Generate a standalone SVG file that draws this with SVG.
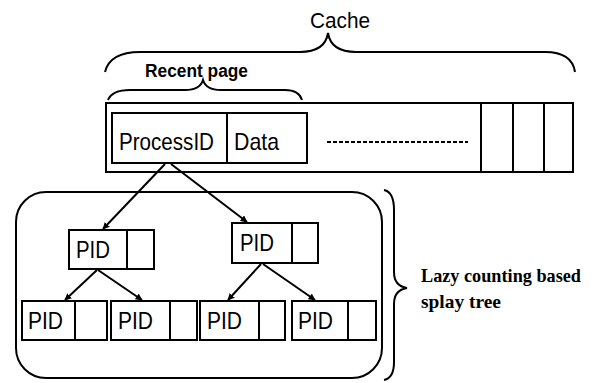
<svg xmlns="http://www.w3.org/2000/svg" width="595" height="383" viewBox="0 0 595 383">
<defs>
<marker id="ah" viewBox="0 0 10 10" refX="9" refY="5" markerWidth="7" markerHeight="7" orient="auto" markerUnits="userSpaceOnUse">
<path d="M0,0 L10,5 L0,10 z" fill="#000"/>
</marker>
<style>
.box{fill:#fff;stroke:#000;stroke-width:2}
.ln{fill:none;stroke:#000;stroke-width:2}
.br{fill:none;stroke:#000;stroke-width:2}
.arr{fill:none;stroke:#000;stroke-width:2;marker-end:url(#ah)}
.t{font-family:"Liberation Sans",Arial,sans-serif;font-size:24px;fill:#000}
.tb{font-family:"Liberation Sans",Arial,sans-serif;font-size:18px;font-weight:bold;fill:#000}
.ts{font-family:"Liberation Serif","Times New Roman",serif;font-size:19px;font-weight:bold;fill:#000}
</style>
</defs>
<rect width="595" height="383" fill="#fff"/>

<g id="cache-label">
<text class="t" x="340" y="28" text-anchor="middle" textLength="60" lengthAdjust="spacingAndGlyphs" style="font-size:22px">Cache</text>
<path class="br" d="M105,72 Q110,52 140,52 L300,52 Q325,52 328,33 Q331,52 356,52 L545,52 Q572,52 575,72"/>
</g>

<g id="recent-label">
<text class="tb" x="145" y="77" textLength="103" lengthAdjust="spacingAndGlyphs">Recent page</text>
<path class="br" d="M108,100 Q112,90 130,90 L185,90 Q200,90 203,80 Q206,90 221,90 L285,90 Q299,90 302,100"/>
</g>

<g id="cache">
<rect class="box" x="106" y="103" width="467" height="69"/>
<line class="ln" x1="481" y1="103" x2="481" y2="172"/>
<line class="ln" x1="513" y1="103" x2="513" y2="172"/>
<line class="ln" x1="544" y1="103" x2="544" y2="172"/>
<line x1="327" y1="142" x2="468" y2="142" stroke="#000" stroke-width="2" stroke-dasharray="4,2"/>
</g>

<g id="recent-page">
<rect class="box" x="112" y="113" width="195" height="50"/>
<line class="ln" x1="227" y1="113" x2="227" y2="163"/>
<text class="t" x="119" y="150" textLength="95" lengthAdjust="spacingAndGlyphs">ProcessID</text>
<text class="t" x="234" y="150" textLength="45" lengthAdjust="spacingAndGlyphs">Data</text>
</g>

<g id="tree-container">
<rect x="16" y="192" width="366" height="186" rx="30" ry="30" class="ln"/>
</g>

<g id="n1">
<rect class="box" x="69" y="230" width="85" height="39"/>
<line class="ln" x1="127" y1="230" x2="127" y2="269"/>
<text class="t" x="76" y="258" textLength="34" lengthAdjust="spacingAndGlyphs">PID</text>
</g>
<g id="n2">
<rect class="box" x="232" y="223" width="86" height="40"/>
<line class="ln" x1="292" y1="223" x2="292" y2="263"/>
<text class="t" x="240" y="251" textLength="34" lengthAdjust="spacingAndGlyphs">PID</text>
</g>
<g id="n3">
<rect class="box" x="22" y="301" width="85" height="39"/>
<line class="ln" x1="75" y1="301" x2="75" y2="340"/>
<text class="t" x="28" y="329" textLength="35" lengthAdjust="spacingAndGlyphs">PID</text>
</g>
<g id="n4">
<rect class="box" x="111" y="301" width="86" height="39"/>
<line class="ln" x1="170" y1="301" x2="170" y2="340"/>
<text class="t" x="118" y="329" textLength="35" lengthAdjust="spacingAndGlyphs">PID</text>
</g>
<g id="n5">
<rect class="box" x="200" y="301" width="85" height="39"/>
<line class="ln" x1="259" y1="301" x2="259" y2="340"/>
<text class="t" x="207" y="329" textLength="35" lengthAdjust="spacingAndGlyphs">PID</text>
</g>
<g id="n6">
<rect class="box" x="292" y="301" width="84" height="39"/>
<line class="ln" x1="348" y1="301" x2="348" y2="340"/>
<text class="t" x="298" y="329" textLength="35" lengthAdjust="spacingAndGlyphs">PID</text>
</g>

<g id="tree-label">
<path class="br" d="M384,190 Q394,192 394,210 L394,272 Q394,286 407,288 Q394,290 394,304 L394,362 Q394,378 384,380"/>
<text class="ts" x="421" y="282" textLength="160" lengthAdjust="spacingAndGlyphs">Lazy counting based</text>
<text class="ts" x="421" y="308" textLength="80" lengthAdjust="spacingAndGlyphs">splay tree</text>
</g>

<g id="connectors">
<line class="arr" x1="165" y1="164" x2="103" y2="229"/>
<line class="arr" x1="171" y1="164" x2="247" y2="222"/>
<line class="arr" x1="97" y1="270" x2="65" y2="300"/>
<line class="arr" x1="98" y1="270" x2="142" y2="300"/>
<line class="arr" x1="261" y1="264" x2="228" y2="300"/>
<line class="arr" x1="263" y1="264" x2="315" y2="300"/>
</g>
</svg>
